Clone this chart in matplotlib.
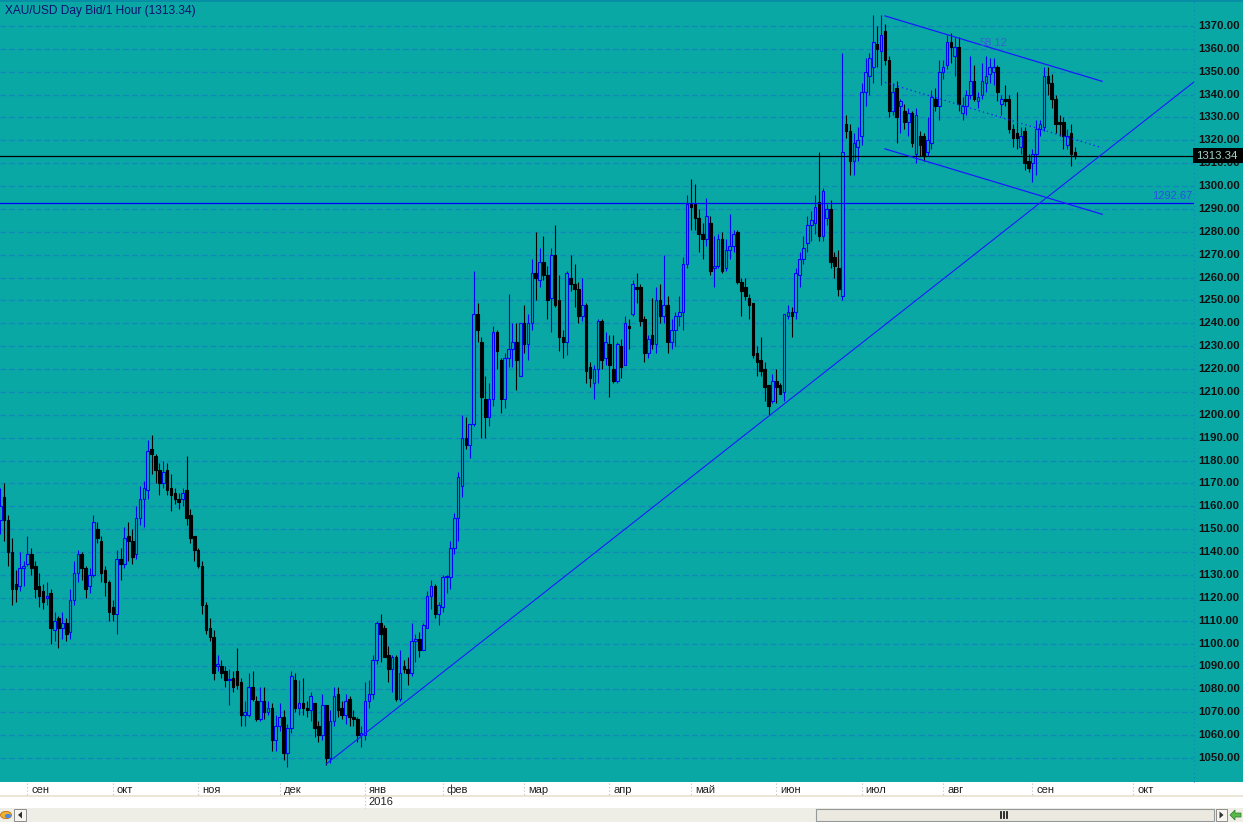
import matplotlib
matplotlib.use("Agg")
import matplotlib.pyplot as plt
import matplotlib.transforms as mtransforms
from matplotlib.patches import Rectangle, Polygon, Circle
from matplotlib.lines import Line2D
import numpy as np
import pandas as pd

# ------------------------------------------------------------ #
# data: XAU/USD daily bars             #
# ------------------------------------------------------------ #
first_day = '2015-08-21'
last_day = '2016-09-16'
no_bar_days = ['2015-12-25', '2016-01-01', '2016-03-25']

opens = [
    1154, 1164, 1154, 1140, 1126, 1125, 1133,  # aug
    1135, 1139, 1134, 1125, 1123, 1120, 1122, 1106, 1111, 1107, 1109, 1105, 1119, 1131, 1139, 1133, 1125, 1130, 1150, 1145, 1132, 1127,  # sep
    1116, 1113, 1137, 1135, 1147, 1145, 1139, 1155, 1163, 1167, 1185, 1182, 1176, 1170, 1176, 1168, 1166, 1163, 1163, 1167, 1156, 1147,  # oct
    1141, 1134, 1117, 1107, 1103, 1090, 1090, 1088, 1084, 1085, 1088, 1083, 1069, 1069, 1081, 1075, 1067, 1075, 1070, 1072, 1058,  # nov
    1064, 1068, 1052, 1063, 1084, 1072, 1074, 1072, 1071, 1074, 1064, 1060, 1073, 1050, 1066, 1078, 1072, 1069, 1076, 1068, 1067, 1060,  # dec
    1060, 1075, 1078, 1093, 1109, 1107, 1095, 1089, 1094, 1076, 1090, 1089, 1087, 1101, 1102, 1097, 1107, 1121, 1125, 1113,  # jan
    1116, 1129, 1129, 1142, 1155, 1169, 1190, 1187, 1196, 1244, 1232, 1207, 1199, 1207, 1236, 1224, 1207, 1225, 1229, 1232, 1217,  # feb
    1240, 1231, 1240, 1262, 1259, 1267, 1261, 1251, 1270, 1250, 1234, 1232, 1260, 1257, 1255, 1243, 1248, 1221, 1214, 1220, 1241, 1225,  # mar
    1231, 1220, 1215, 1230, 1222, 1239, 1244, 1256, 1256, 1242, 1227, 1235, 1231, 1250, 1243, 1248, 1232, 1237, 1243, 1245, 1266,  # apr
    1292, 1292, 1286, 1279, 1277, 1284, 1264, 1265, 1277, 1264, 1272, 1274, 1280, 1258, 1256, 1251, 1249, 1227, 1224, 1220, 1213, 1206,  # may
    1215, 1213, 1210, 1243, 1245, 1245, 1261, 1268, 1275, 1283, 1284, 1293, 1278, 1286, 1290, 1269, 1264, 1252, 1327, 1324, 1311, 1317,  # jun
    1322, 1341, 1348, 1352, 1362, 1359, 1368, 1355, 1333, 1343, 1335, 1333, 1328, 1332, 1314, 1322, 1322, 1315, 1319, 1338, 1335,  # jul
    1350, 1353, 1363, 1357, 1361, 1332, 1335, 1340, 1346, 1337, 1340, 1345, 1349, 1350, 1352, 1336, 1338, 1338, 1325, 1323, 1317, 1324, 1311,  # aug
    1310, 1314, 1325, 1326, 1348, 1345, 1338, 1328, 1328, 1318, 1323, 1315,  # sep
]
highs = [
    1168, 1170, 1156, 1146, 1132, 1140, 1136,
    1147, 1142, 1136, 1131, 1126, 1127, 1124, 1114, 1112, 1114, 1111, 1124, 1136, 1141, 1140, 1134, 1133, 1156, 1153, 1147, 1134, 1128,
    1119, 1141, 1142, 1151, 1153, 1150, 1160, 1169, 1171, 1189, 1191, 1183, 1179, 1180, 1179, 1174, 1168, 1166, 1168, 1182, 1159, 1147,
    1142, 1136, 1118, 1111, 1106, 1095, 1093, 1090, 1089, 1088, 1098, 1085, 1075, 1087, 1088, 1077, 1081, 1081, 1075, 1074, 1069,
    1074, 1071, 1065, 1088, 1087, 1084, 1085, 1075, 1079, 1074, 1066, 1078, 1073, 1071, 1081, 1081, 1075, 1078, 1077, 1071, 1068, 1064,
    1083, 1084, 1095, 1110, 1113, 1108, 1099, 1095, 1095, 1097, 1093, 1094, 1109, 1104, 1105, 1109, 1123, 1128, 1126, 1118,
    1130, 1130, 1145, 1157, 1175, 1200, 1199, 1196, 1263, 1249, 1234, 1217, 1214, 1239, 1237, 1225, 1227, 1253, 1240, 1240, 1240,
    1248, 1244, 1268, 1280, 1273, 1278, 1265, 1273, 1283, 1261, 1237, 1263, 1270, 1266, 1258, 1260, 1249, 1223, 1222, 1242, 1242, 1236,
    1235, 1235, 1232, 1233, 1243, 1242, 1259, 1262, 1257, 1243, 1235, 1251, 1256, 1257, 1270, 1252, 1242, 1245, 1252, 1269, 1296,
    1303, 1301, 1290, 1284, 1295, 1287, 1278, 1279, 1280, 1277, 1288, 1281, 1281, 1260, 1260, 1253, 1249, 1230, 1234, 1223, 1213, 1218,
    1220, 1214, 1244, 1248, 1247, 1264, 1271, 1278, 1287, 1289, 1296, 1315, 1299, 1292, 1294, 1271, 1272, 1358, 1331, 1327, 1323, 1326,
    1345, 1356, 1358, 1375, 1370, 1375, 1371, 1357, 1345, 1346, 1338, 1336, 1334, 1333, 1334, 1324, 1323, 1330, 1342, 1343, 1355,
    1355, 1366, 1367, 1365, 1365, 1339, 1342, 1357, 1353, 1341, 1354, 1357, 1356, 1356, 1353, 1340, 1344, 1340, 1327, 1341, 1326, 1326, 1314,
    1316, 1329, 1329, 1352, 1352, 1349, 1340, 1331, 1330, 1325, 1327, 1317,
]
lows = [
    1148, 1145, 1134, 1117, 1118, 1123, 1125,
    1134, 1130, 1120, 1116, 1115, 1117, 1100, 1101, 1098, 1102, 1101, 1102, 1117, 1127, 1128, 1120, 1122, 1129, 1144, 1127, 1121, 1110,
    1110, 1104, 1128, 1133, 1136, 1135, 1137, 1152, 1151, 1163, 1174, 1170, 1165, 1168, 1165, 1158, 1161, 1159, 1160, 1152, 1144, 1136,
    1133, 1113, 1104, 1101, 1084, 1088, 1085, 1081, 1073, 1079, 1080, 1064, 1064, 1068, 1075, 1066, 1066, 1067, 1069, 1053, 1053,
    1062, 1049, 1046, 1061, 1070, 1069, 1069, 1068, 1066, 1059, 1057, 1058, 1047, 1048, 1064, 1068, 1067, 1065, 1064, 1064, 1057, 1055,
    1058, 1072, 1076, 1091, 1092, 1094, 1083, 1079, 1075, 1075, 1087, 1082, 1086, 1092, 1094, 1097, 1107, 1115, 1111, 1108,
    1114, 1122, 1124, 1139, 1145, 1164, 1185, 1181, 1195, 1232, 1190, 1190, 1195, 1204, 1220, 1201, 1203, 1221, 1221, 1211, 1217,
    1227, 1224, 1237, 1250, 1256, 1259, 1242, 1236, 1247, 1228, 1225, 1226, 1254, 1247, 1240, 1241, 1214, 1212, 1207, 1214, 1220, 1222,
    1208, 1214, 1214, 1216, 1222, 1229, 1243, 1249, 1239, 1223, 1225, 1229, 1227, 1240, 1240, 1227, 1229, 1230, 1239, 1237, 1264,
    1281, 1281, 1271, 1268, 1274, 1261, 1256, 1264, 1262, 1263, 1268, 1271, 1257, 1243, 1250, 1242, 1225, 1217, 1217, 1206, 1200, 1205,
    1205, 1209, 1206, 1242, 1234, 1242, 1256, 1266, 1271, 1276, 1279, 1276, 1276, 1283, 1264, 1260, 1252, 1250, 1321, 1305, 1305, 1311,
    1318, 1335, 1340, 1345, 1352, 1344, 1353, 1330, 1331, 1319, 1323, 1325, 1322, 1317, 1310, 1313, 1311, 1313, 1316, 1333, 1329,
    1347, 1351, 1354, 1348, 1333, 1329, 1331, 1338, 1337, 1334, 1338, 1341, 1345, 1344, 1337, 1331, 1335, 1323, 1317, 1316, 1314, 1307, 1306,
    1302, 1305, 1322, 1324, 1340, 1334, 1323, 1322, 1316, 1316, 1309, 1312,
]
closes = [
    1160, 1154, 1140, 1124, 1124, 1133, 1134,
    1139, 1133, 1124, 1121, 1118, 1121, 1107, 1110, 1107, 1109, 1104, 1119, 1131, 1139, 1133, 1124, 1130, 1153, 1146, 1131, 1127, 1114,
    1113, 1137, 1135, 1146, 1145, 1138, 1155, 1163, 1168, 1184, 1183, 1176, 1170, 1175, 1167, 1165, 1163, 1162, 1166, 1155, 1146, 1141,
    1134, 1117, 1106, 1103, 1087, 1091, 1087, 1084, 1084, 1081, 1082, 1069, 1070, 1081, 1076, 1067, 1075, 1070, 1072, 1058, 1064,
    1068, 1052, 1063, 1086, 1072, 1074, 1072, 1071, 1077, 1063, 1060, 1073, 1050, 1066, 1077, 1071, 1069, 1075, 1068, 1067, 1060, 1061,
    1075, 1078, 1093, 1109, 1104, 1094, 1089, 1094, 1076, 1087, 1089, 1087, 1101, 1102, 1097, 1108, 1121, 1125, 1113, 1117,
    1129, 1129.5, 1142, 1155, 1173, 1190, 1187, 1196, 1244, 1237, 1208, 1199, 1207, 1236, 1228, 1207, 1225, 1229, 1232, 1224, 1240,
    1231, 1240, 1262, 1260, 1267, 1261, 1250, 1270, 1248, 1234, 1232, 1262, 1257, 1255, 1243, 1248, 1219, 1216, 1220, 1241, 1224, 1232,
    1222, 1215, 1231, 1221, 1240, 1238, 1257, 1255, 1241, 1227, 1233, 1231, 1250, 1243, 1248, 1232, 1237, 1243, 1245, 1266, 1292,
    1291, 1286, 1279, 1277, 1287, 1263, 1265, 1277, 1263, 1272, 1274, 1279, 1258, 1254, 1252, 1248, 1226, 1223, 1219, 1212, 1204, 1215,
    1212, 1209, 1244, 1245, 1243, 1262, 1268, 1273, 1283, 1285, 1291, 1278, 1298, 1290, 1267, 1265, 1255, 1315, 1324, 1311, 1319, 1320,
    1341, 1350, 1356, 1363, 1360, 1366, 1355, 1333, 1341, 1330, 1337, 1328, 1332, 1319, 1331, 1318, 1313, 1320, 1339, 1335, 1350,
    1352, 1363, 1361, 1361, 1336, 1335, 1340, 1346, 1338, 1339, 1346, 1348, 1352, 1352, 1341, 1338, 1337, 1325, 1321, 1321, 1322, 1310, 1308,
    1314, 1325, 1327, 1348, 1345, 1338, 1327, 1327, 1322, 1322, 1314, 1313,
]

last_price = 1313.34
level_line = 1292.67
grid_levels = list(range(1050, 1380, 10))
month_names = ['сен', 'окт', 'ноя', 'дек', 'янв', 'фев', 'мар', 'апр', 'май', 'июн', 'июл', 'авг', 'сен', 'окт']

# drawn studies
trend_dates = ['2015-12-17', '2016-05-31']
trend_prices = [1047.4, 1200.7]
channel_dates = ['2016-07-11', '2016-09-23']
channel_top = [1374.4, 1345.8]
channel_height = 58.12

# ---- colours ---- #
TEAL = '#0aa8a5'
GRID = '#0f89b8'
BLUE = '#0000ff'

# ---- bars on the x axis ---- #
dates = pd.bdate_range(first_day, last_day)
dates = dates[~dates.isin(pd.to_datetime(no_bar_days))]
n = min(len(dates), len(closes))
o = np.array(opens[:n], float)
c = np.array(closes[:n], float)
h = np.maximum(np.array(highs[:n], float), np.maximum(o, c))
l = np.minimum(np.array(lows[:n], float), np.minimum(o, c))


def bar_pos(d):
    # past dates -> bar number, future dates -> one slot per calendar day
    d = pd.Timestamp(d)
    if d <= dates[n - 1]:
        return float(np.searchsorted(dates[:n].values, d.to_datetime64()))
    return float(n - 1 + (d - dates[n - 1]).days)


# ---- figure ---- #
plt.rcParams['font.family'] = ['Liberation Sans', 'DejaVu Sans']
plt.rcParams['lines.scale_dashes'] = False
W, H = 1243, 822
BAR_PX = 3.88
fig = plt.figure(figsize=(W / 100, H / 100), dpi=100)
fig.patch.set_facecolor(TEAL)


def fx(px):
    return px / W


def fy(py):
    return 1 - py / H


ax = fig.add_axes([0, fy(782), fx(1194), fy(4) - fy(782)])
ax.set_facecolor(TEAL)
ax.set_xlim(-0.3 / BAR_PX, (1194 - 0.3) / BAR_PX)
ax.set_ylim(1039.5, 1379.6)
ax.set_xticks([])
ax.set_yticks([])
for s in ax.spines.values():
    s.set_visible(False)

for p in grid_levels:
    ax.axhline(p, color=GRID, lw=1.0, dashes=(4.3, 2.0), zorder=1)

# candles
x = np.arange(n)
up = c >= o
ax.vlines(x, l, h, colors=[BLUE if u else 'black' for u in up], lw=0.8, zorder=3)
for i in range(n):
    lo, hi = min(o[i], c[i]), max(o[i], c[i])
    body = max(hi - lo, 0.45)
    if up[i]:
        ax.add_patch(Rectangle((i - 0.33, lo), 0.66, body, facecolor=TEAL, edgecolor=BLUE, lw=0.8, zorder=4))
    else:
        ax.add_patch(Rectangle((i - 0.33, lo), 0.66, body, facecolor='black', edgecolor='black', lw=0.8, zorder=4))

# horizontal levels
ax.axhline(last_price, color='black', lw=0.9, zorder=5)
ax.axhline(level_line, color=BLUE, lw=0.9, zorder=5)
ax.text(0.999, level_line + 0.6, f'{level_line:.2f}', transform=ax.get_yaxis_transform(),
        ha='right', va='bottom', color='#2a4ee6', fontsize=8, zorder=6)

# long trend line
tx = [bar_pos(d) for d in trend_dates]
slope = (trend_prices[1] - trend_prices[0]) / (tx[1] - tx[0])
x_end = ax.get_xlim()[1]
ax.plot([tx[0], x_end], [trend_prices[0], trend_prices[0] + slope * (x_end - tx[0])],
        color='#1a1aff', lw=0.8, zorder=5)

# channel
cx = [bar_pos(d) for d in channel_dates]
top = np.array(channel_top)
ax.plot(cx, top, color='#1a1aff', lw=0.9, zorder=5)
ax.plot(cx, top - channel_height, color='#1a1aff', lw=0.9, zorder=5)
ax.plot(cx, top - channel_height / 2, color='#1a1aff', lw=0.9, ls=(0, (1, 2.2)), zorder=5)
ax.text(np.mean(cx), top.mean() + 2.3, f'{channel_height:.2f}', ha='center', va='center',
        color='#3560d8', fontsize=8, zorder=6)

# title
fig.text(fx(5), fy(11), 'XAU/USD Day Bid/1 Hour (' + f'{last_price:.2f}' + ')', ha='left', va='center',
         fontsize=8.6, color='#101070')

# top border
fig.add_artist(Rectangle((0, fy(2)), 1, fy(0) - fy(2), transform=fig.transFigure, color='#078ea4', lw=0))

# right price scale
fig.add_artist(Line2D([fx(1194), fx(1194)], [fy(782), fy(0)], transform=fig.transFigure,
                      color=GRID, lw=0.8, ls=(0, (1, 2))))
yt = ax.get_yaxis_transform()
for p in grid_levels:
    ax.text(1198 / 1194, p, f'{p:.2f}', transform=yt, ha='left', va='center', fontsize=8.2,
            fontweight='bold', color='#101010', clip_on=False, zorder=2)
box_tr = mtransforms.blended_transform_factory(fig.transFigure, ax.transData)
fig.add_artist(Rectangle((fx(1193), last_price - 3.2), fx(1243) - fx(1193), 6.4, transform=box_tr,
                         color='black', lw=0, zorder=10))
fig.add_artist(plt.Text(fx(1217), last_price, f'{last_price:.2f}', transform=box_tr, ha='center',
                        va='center', fontsize=8.2, color='#9ed6c6', zorder=11))

# time axis band
fig.add_artist(Rectangle((0, fy(808)), 1, fy(782) - fy(808), transform=fig.transFigure, color='white', lw=0))
fig.add_artist(Line2D([0, 1], [fy(796), fy(796)], transform=fig.transFigure, color='#e8e2cf', lw=1.2))
months = pd.date_range('2015-09-01', '2016-10-01', freq='MS')
for m, name in zip(months, month_names):
    px = 0.3 + BAR_PX * bar_pos(m)
    bottom = 808 if m.month == 1 else 796
    fig.add_artist(Line2D([fx(px), fx(px)], [fy(783), fy(bottom)], transform=fig.transFigure,
                          color='#c8c8c8', lw=0.8, ls=(0, (1, 1.5))))
    fig.text(fx(px + 4), fy(789.5), name, ha='left', va='center', fontsize=8, color='#202020')
    if m.month == 1:
        fig.text(fx(px + 3), fy(802), str(m.year), ha='left', va='center', fontsize=8, color='#202020')

# scroll bar
fig.add_artist(Rectangle((0, 0), 1, fy(808), transform=fig.transFigure, color='#eeede6', lw=0))
fig.add_artist(Circle((fx(6), fy(815)), fx(5.5), transform=fig.transFigure, facecolor='#f0b030',
                      edgecolor='#c07010', lw=0.6))
fig.add_artist(Circle((fx(8), fy(816)), fx(3.2), transform=fig.transFigure, facecolor='#4a8ad8', lw=0))


def button(x0, x1, pointing_left):
    fig.add_artist(Rectangle((fx(x0), fy(821)), fx(x1) - fx(x0), fy(809) - fy(821), transform=fig.transFigure,
                             facecolor='#f5f4ef', edgecolor='#8c8c8c', lw=0.7))
    xm = (x0 + x1) / 2
    if pointing_left:
        pts = [(xm - 2, 815), (xm + 2, 811.5), (xm + 2, 818.5)]
    else:
        pts = [(xm + 2, 815), (xm - 2, 811.5), (xm - 2, 818.5)]
    fig.add_artist(Polygon([(fx(a), fy(b)) for a, b in pts], transform=fig.transFigure, color='#303030', lw=0))


button(14, 26, True)
fig.add_artist(Rectangle((fx(816), fy(821)), fx(1214) - fx(816), fy(809) - fy(821), transform=fig.transFigure,
                         facecolor='#ebe9e0', edgecolor='#949a9a', lw=0.8))
for k in (-3, 0, 3):
    fig.add_artist(Line2D([fx(1004 + k), fx(1004 + k)], [fy(812), fy(818)], transform=fig.transFigure,
                          color='#202020', lw=1.3))
button(1216, 1227, False)
fig.add_artist(Polygon([(fx(a), fy(b)) for a, b in
                        [(1230, 815), (1235, 810), (1235, 813), (1241, 813), (1241, 817), (1235, 817), (1235, 820)]],
                       transform=fig.transFigure, facecolor='#58b848', edgecolor='#2a7a2a', lw=0.5))

fig.savefig('out.png', dpi=100, facecolor=fig.get_facecolor())
